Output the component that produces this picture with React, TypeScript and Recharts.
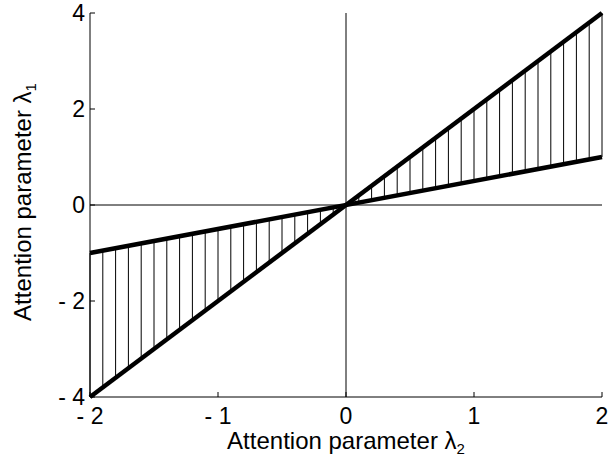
import React from 'react';
import { ComposedChart, Line, XAxis, YAxis, ReferenceLine } from 'recharts';

const lineX = [-2, 2];
const steepY = [-4, 4];
const shallowY = [-1, 1];

const hatchX = [
    -2, -1.9, -1.8, -1.7, -1.6, -1.5, -1.4, -1.3, -1.2, -1.1, -1, -0.9, -0.8, -0.7, -0.6, -0.5, -0.4, -0.3, -0.2, -0.1, 0,
    0.1, 0.2, 0.3, 0.4, 0.5, 0.6, 0.7, 0.8, 0.9, 1, 1.1, 1.2, 1.3, 1.4, 1.5, 1.6, 1.7, 1.8, 1.9, 2,
];
const hatchSteep = [
    -4, -3.8, -3.6, -3.4, -3.2, -3, -2.8, -2.6, -2.4, -2.2, -2, -1.8, -1.6, -1.4, -1.2, -1, -0.8, -0.6, -0.4, -0.2, 0,
    0.2, 0.4, 0.6, 0.8, 1, 1.2, 1.4, 1.6, 1.8, 2, 2.2, 2.4, 2.6, 2.8, 3, 3.2, 3.4, 3.6, 3.8, 4,
];
const hatchShallow = [
    -1, -0.95, -0.9, -0.85, -0.8, -0.75, -0.7, -0.65, -0.6, -0.55, -0.5, -0.45, -0.4, -0.35, -0.3, -0.25, -0.2, -0.15, -0.1, -0.05, 0,
    0.05, 0.1, 0.15, 0.2, 0.25, 0.3, 0.35, 0.4, 0.45, 0.5, 0.55, 0.6, 0.65, 0.7, 0.75, 0.8, 0.85, 0.9, 0.95, 1,
];

const xTicks = [-2, -1, 0, 1, 2];
const yTicks = [-4, -2, 0, 2, 4];

const data = lineX.map((x, i) => ({ x, steep: steepY[i], shallow: shallowY[i] }));

const FONT = '"Liberation Sans", Arial, Helvetica, sans-serif';
const fmt = (v: number) => (v < 0 ? `- ${Math.abs(v)}` : `${v}`);

const XTitle = (props: any) => {
    const vb = props.viewBox;
    return (
        <text x={vb.x + vb.width / 2} y={vb.y + 52} textAnchor="middle" fontSize={24} fontFamily={FONT} fill="#000">
            Attention parameter λ<tspan fontSize={15} dy={5}>2</tspan>
        </text>
    );
};

const YTitle = () => (
    <text x={31} y={202} transform="rotate(-90, 31, 202)" textAnchor="middle" fontSize={24} fontFamily={FONT} fill="#000">
        Attention parameter λ<tspan fontSize={15} dy={5}>1</tspan>
    </text>
);

const App = () => {
    const tickStyle = { fill: '#000', fontSize: 23, fontFamily: FONT };
    return (
        <div style={{ position: 'absolute', left: 0, top: 0, background: '#fff' }}>
            <ComposedChart width={612} height={466} data={data} margin={{ top: 13, right: 10, left: 0, bottom: 0 }}>
                <XAxis
                    dataKey="x"
                    type="number"
                    domain={[-2, 2]}
                    ticks={xTicks}
                    interval={0}
                    tickFormatter={fmt}
                    height={69}
                    tickSize={-5}
                    tickMargin={16}
                    stroke="#000"
                    tick={tickStyle}
                    label={<XTitle />}
                />
                <XAxis
                    xAxisId="top"
                    dataKey="x"
                    type="number"
                    orientation="top"
                    domain={[-2, 2]}
                    ticks={xTicks}
                    height={0}
                    tickSize={-5}
                    stroke="#000"
                    tick={false}
                />
                <YAxis
                    type="number"
                    domain={[-4, 4]}
                    ticks={yTicks}
                    interval={0}
                    tickFormatter={fmt}
                    width={90}
                    tickSize={-5}
                    tickMargin={10}
                    stroke="#000"
                    tick={tickStyle}
                    label={<YTitle />}
                />
                <YAxis
                    yAxisId="right"
                    type="number"
                    orientation="right"
                    domain={[-4, 4]}
                    ticks={yTicks}
                    width={0}
                    tickSize={-5}
                    stroke="#000"
                    tick={false}
                />
                <ReferenceLine x={0} stroke="#000" strokeWidth={1} />
                <ReferenceLine y={0} stroke="#000" strokeWidth={1} />
                {hatchX.map((x, i) => (
                    <ReferenceLine
                        key={i}
                        segment={[{ x, y: hatchSteep[i] }, { x, y: hatchShallow[i] }]}
                        stroke="#000"
                        strokeWidth={1}
                        ifOverflow="visible"
                    />
                ))}
                <Line type="linear" dataKey="steep" stroke="#000" strokeWidth={4.5} dot={false} isAnimationActive={false} />
                <Line type="linear" dataKey="shallow" stroke="#000" strokeWidth={4.5} dot={false} isAnimationActive={false} />
            </ComposedChart>
        </div>
    );
};

export default App;
